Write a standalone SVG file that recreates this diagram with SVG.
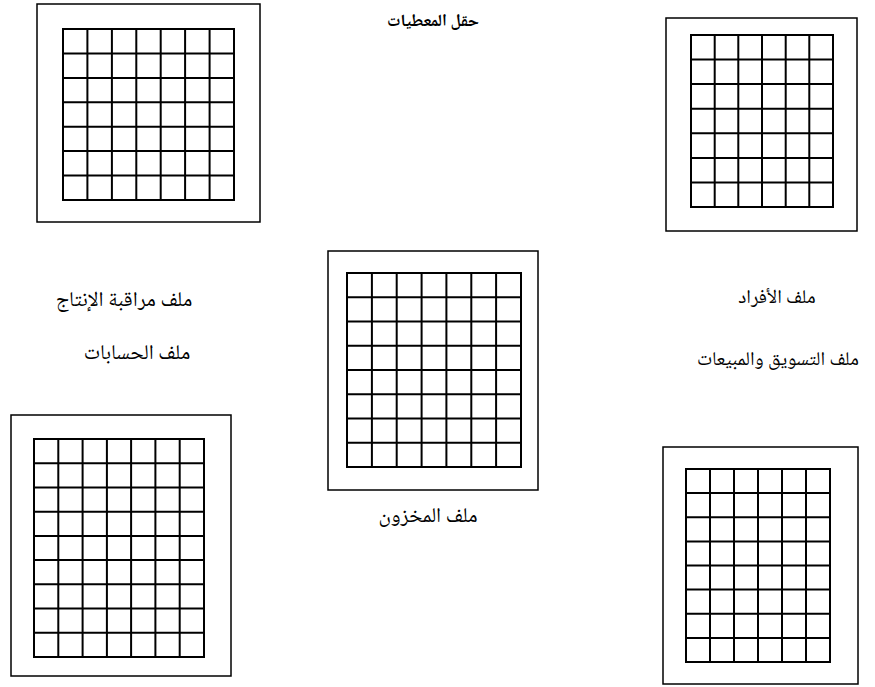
<svg xmlns="http://www.w3.org/2000/svg" width="875" height="687" viewBox="0 0 875 687">
<style>
.outer{fill:none;stroke:#000;stroke-width:1.5}
.grid{fill:none;stroke:#000;stroke-width:2}
.lbl{font-family:"Noto Naskh Arabic","Amiri","Scheherazade New","DejaVu Sans",sans-serif;font-size:20px;fill:#000;text-anchor:middle;direction:rtl}
.big{font-size:21px}
.small{font-size:19.5px}
</style>
<rect width="875" height="687" fill="#fff"/>
<g id="title"><text class="lbl" x="433" y="26" font-weight="bold" style="font-size:17px">حقل المعطيات</text></g>
<g id="production">
<rect class="outer" x="37" y="4" width="223" height="218"/>
<path class="grid" d="M63 29H234V200H63Z M87.4 29V200 M111.9 29V200 M136.3 29V200 M160.7 29V200 M185.1 29V200 M209.6 29V200 M63 53.4H234 M63 77.9H234 M63 102.3H234 M63 126.7H234 M63 151.1H234 M63 175.6H234"/>
<text class="lbl big" x="124" y="306">ملف مراقبة الإنتاج</text>
</g>
<g id="personnel">
<rect class="outer" x="666" y="18" width="191" height="213"/>
<path class="grid" d="M691 35H833V207H691Z M714.7 35V207 M738.3 35V207 M762 35V207 M785.7 35V207 M809.3 35V207 M691 59.6H833 M691 84.1H833 M691 108.7H833 M691 133.3H833 M691 157.9H833 M691 182.4H833"/>
<text class="lbl small" x="777" y="303">ملف الأفراد</text>
</g>
<g id="inventory">
<rect class="outer" x="328" y="251" width="210" height="239"/>
<path class="grid" d="M347 273H521V467H347Z M371.9 273V467 M396.7 273V467 M421.6 273V467 M446.4 273V467 M471.3 273V467 M496.1 273V467 M347 297.25H521 M347 321.5H521 M347 345.75H521 M347 370H521 M347 394.25H521 M347 418.5H521 M347 442.75H521"/>
<text class="lbl big" x="428" y="522">ملف المخزون</text>
</g>
<g id="accounts">
<rect class="outer" x="11" y="415" width="220" height="261"/>
<path class="grid" d="M34 439H204V657H34Z M58.3 439V657 M82.6 439V657 M106.9 439V657 M131.1 439V657 M155.4 439V657 M179.7 439V657 M34 463.2H204 M34 487.4H204 M34 511.7H204 M34 535.9H204 M34 560.1H204 M34 584.3H204 M34 608.6H204 M34 632.8H204"/>
<text class="lbl big" x="137" y="359">ملف الحسابات</text>
</g>
<g id="marketing">
<rect class="outer" x="663" y="447" width="195" height="237"/>
<path class="grid" d="M686 469H830V662H686Z M710 469V662 M734 469V662 M758 469V662 M782 469V662 M806 469V662 M686 493.1H830 M686 517.25H830 M686 541.4H830 M686 565.5H830 M686 589.6H830 M686 613.75H830 M686 637.9H830"/>
<text class="lbl small" x="778" y="365">ملف التسويق والمبيعات</text>
</g>
<g id="connectors"></g>
</svg>
